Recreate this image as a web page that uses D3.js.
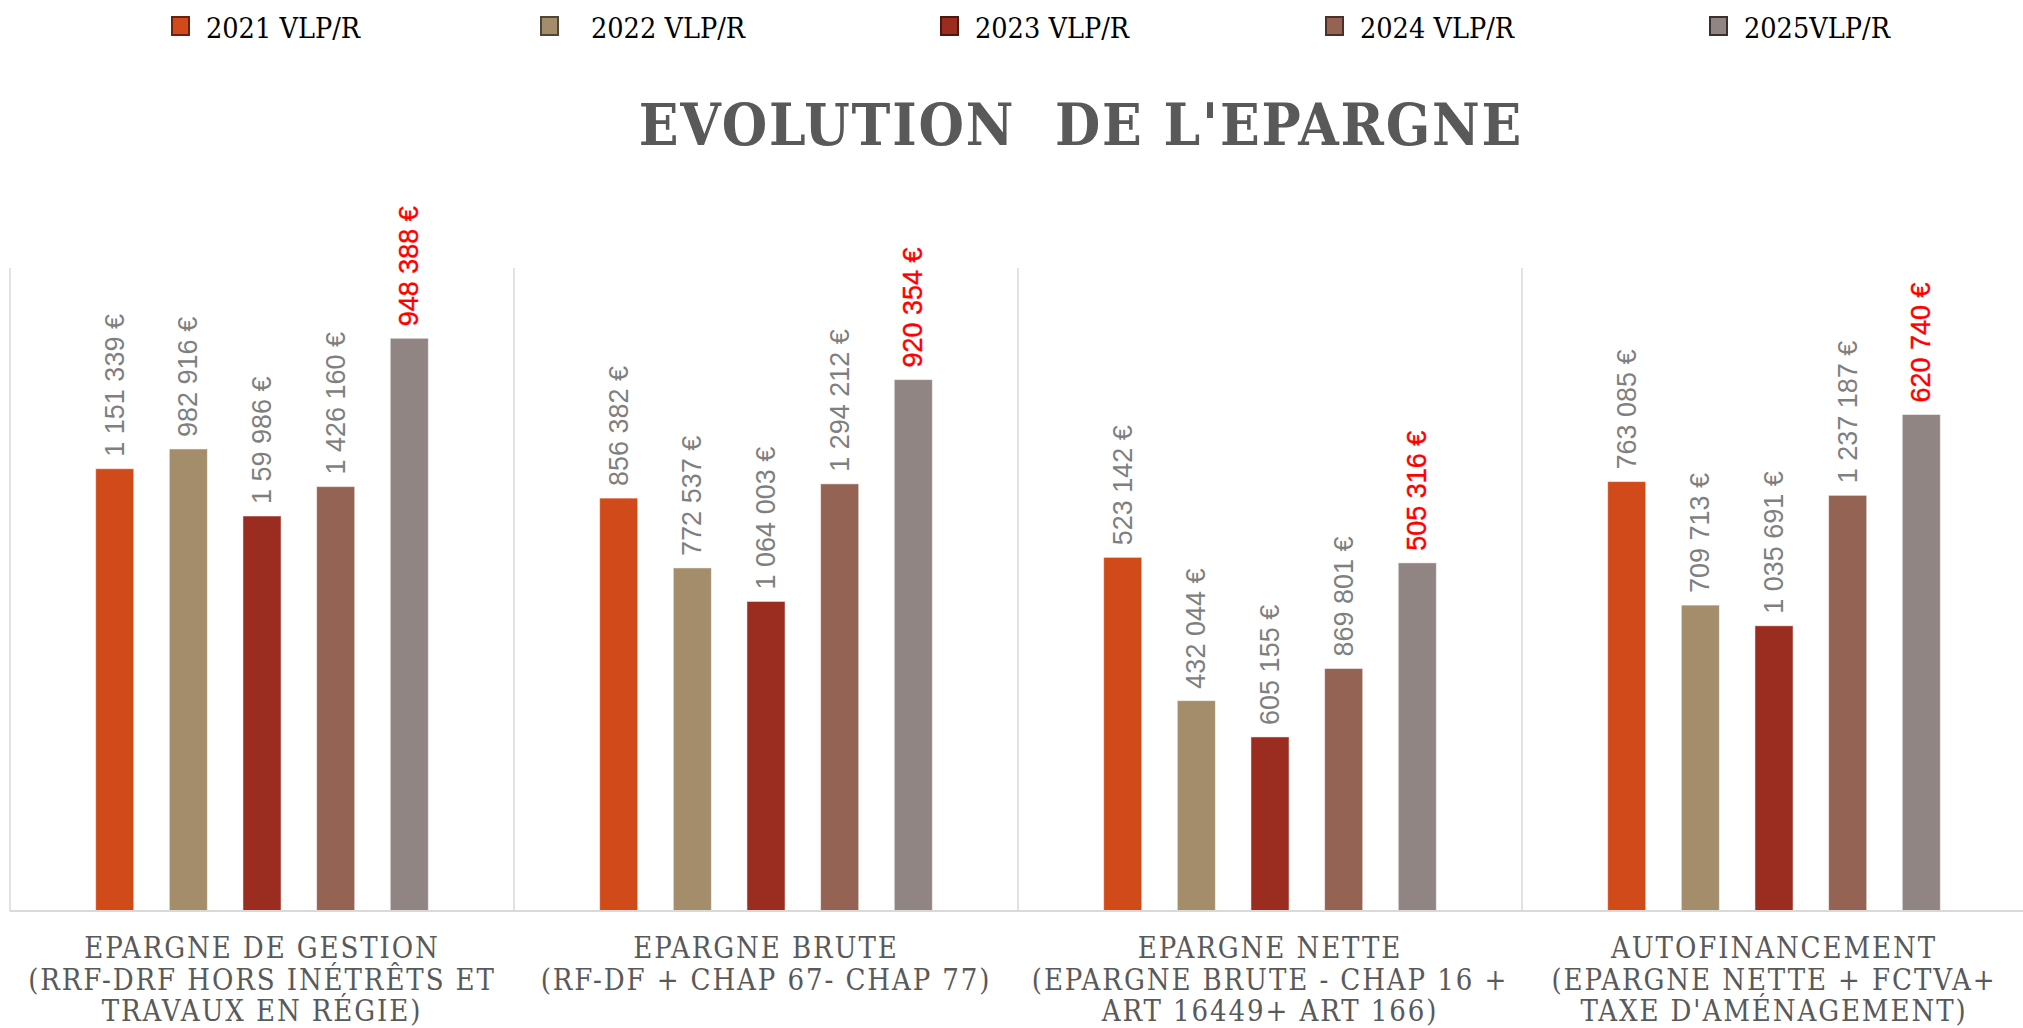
<!DOCTYPE html>
<html>
<head>
<meta charset="utf-8">
<script src="https://cdn.jsdelivr.net/npm/d3@7"></script>
<style>
  body { margin: 0; background: #fff; }
  svg { display: block; }
</style>
</head>
<body>
<div id="chart"></div>
<script>
var width = 2023
var height = 1028

// data
var categories = [
  ['EPARGNE DE GESTION', '(RRF-DRF HORS INÉTRÊTS ET', 'TRAVAUX EN RÉGIE)'],
  ['EPARGNE BRUTE', '(RF-DF + CHAP 67- CHAP 77)'],
  ['EPARGNE NETTE', '(EPARGNE BRUTE - CHAP 16 +', 'ART 16449+ ART 166)'],
  ['AUTOFINANCEMENT', '(EPARGNE NETTE + FCTVA+', "TAXE D'AMÉNAGEMENT)"]
]
var series = ['2021 VLP/R', '2022 VLP/R', '2023 VLP/R', '2024 VLP/R', '2025VLP/R']
var colors = ['#d04a1a', '#a38d6b', '#9b2d20', '#956353', '#908583']
var legendStroke = ['#6b2010', '#4f4636', '#4f1510', '#4a3028', '#3a3030']

// bar heights as drawn
var values2021 = [963000, 899000, 770000, 935000]
var values2022 = [1006000, 747000, 458000, 666000]
var values2023 = [860000, 674000, 379000, 621000]
var values2024 = [924000, 930000, 528000, 905000]
var values2025 = [1247000, 1157000, 758000, 1081000]

// label texts as printed above the bars
var labels2021 = ['1 151 339 €', '856 382 €', '523 142 €', '763 085 €']
var labels2022 = ['982 916 €', '772 537 €', '432 044 €', '709 713 €']
var labels2023 = ['1 59 986 €', '1 064 003 €', '605 155 €', '1 035 691 €']
var labels2024 = ['1 426 160 €', '1 294 212 €', '869 801 €', '1 237 187 €']
var labels2025 = ['948 388 €', '920 354 €', '505 316 €', '620 740 €']

var values = [values2021, values2022, values2023, values2024, values2025]
var labels = [labels2021, labels2022, labels2023, labels2024, labels2025]

var svg = d3.select('#chart')
  .append('svg')
  .attr('width', width)
  .attr('height', height)

var plot = { left: 10, right: 2026, top: 268, bottom: 911 }

var x0 = d3.scaleBand()
  .domain(d3.range(categories.length))
  .range([plot.left, plot.right])

var x1 = d3.scaleBand()
  .domain(d3.range(series.length))
  .range([0, x0.bandwidth()])
  .paddingInner(0.483)
  .paddingOuter(1.163)

var y = d3.scaleLinear()
  .domain([0, 1400000])
  .range([plot.bottom, plot.top])

// group separators
var seps = d3.range(categories.length + 1).map(function(i) {
  return i < categories.length ? x0(i) : plot.right
})
svg.append('g')
  .selectAll('line')
  .data(seps)
  .enter()
  .append('line')
  .attr('x1', function(d) { return d })
  .attr('x2', function(d) { return d })
  .attr('y1', plot.top)
  .attr('y2', plot.bottom)
  .attr('stroke', '#d9d9d9')
  .attr('stroke-width', 1.5)

// bars
var rows = []
categories.forEach(function(c, ci) {
  series.forEach(function(s, si) {
    rows.push({ c: ci, s: si, v: values[si][ci], label: labels[si][ci] })
  })
})

svg.append('g')
  .selectAll('rect')
  .data(rows)
  .enter()
  .append('rect')
  .attr('x', function(d) { return x0(d.c) + x1(d.s) })
  .attr('y', function(d) { return y(d.v) })
  .attr('width', x1.bandwidth())
  .attr('height', function(d) { return y(0) - y(d.v) })
  .attr('fill', function(d) { return colors[d.s] })
  .attr('stroke', '#ffffff')
  .attr('stroke-opacity', 0.5)
  .attr('stroke-width', 1)

// baseline
svg.append('line')
  .attr('x1', plot.left)
  .attr('x2', plot.right)
  .attr('y1', plot.bottom)
  .attr('y2', plot.bottom)
  .attr('stroke', '#d9d9d9')
  .attr('stroke-width', 2)

// value labels
svg.append('g')
  .selectAll('text')
  .data(rows)
  .enter()
  .append('text')
  .attr('transform', function(d) {
    var cx = x0(d.c) + x1(d.s) + x1.bandwidth() / 2
    return 'translate(' + cx + ',' + (y(d.v) - 12) + ')rotate(-90)'
  })
  .attr('text-anchor', 'start')
  .attr('dominant-baseline', 'central')
  .style('font-family', '"Liberation Sans Narrow", "Liberation Sans", sans-serif')
  .style('font-size', '27px')
  .attr('fill', function(d) { return d.s === 4 ? '#ff0000' : '#7f7f7f' })
  .attr('stroke', function(d) { return d.s === 4 ? '#ff0000' : 'none' })
  .attr('stroke-width', 0.4)
  .text(function(d) { return d.label })

// category labels
var cat = svg.append('g')
  .selectAll('text')
  .data(categories)
  .enter()
  .append('text')
  .attr('x', function(d, i) { return x0(i) + x0.bandwidth() / 2 })
  .attr('y', 948)
  .attr('text-anchor', 'middle')
  .style('font-family', '"DejaVu Serif Condensed", "DejaVu Serif", serif')
  .style('font-size', '29px')
  .style('letter-spacing', '1.9px')
  .attr('fill', '#595959')

cat.selectAll('tspan')
  .data(function(d) { return d })
  .enter()
  .append('tspan')
  .attr('x', function() { return d3.select(this.parentNode).attr('x') })
  .attr('dy', function(d, i) { return i === 0 ? 0 : 31.5 })
  .attr('dominant-baseline', 'central')
  .text(function(d) { return d })

// title
svg.append('text')
  .attr('x', 1081)
  .attr('y', 125)
  .attr('text-anchor', 'middle')
  .attr('dominant-baseline', 'central')
  .style('font-family', '"DejaVu Serif Condensed", "DejaVu Serif", serif')
  .style('font-size', '58px')
  .style('font-weight', 'bold')
  .style('letter-spacing', '1.8px')
  .style('white-space', 'pre')
  .attr('fill', '#595959')
  .text("EVOLUTION  DE L'EPARGNE")

// legend
var legendX = [172, 541, 941, 1326, 1710]
var legend = svg.append('g')
  .selectAll('g')
  .data(series)
  .enter()
  .append('g')
  .attr('transform', function(d, i) { return 'translate(' + legendX[i] + ',26)' })

legend.append('rect')
  .attr('x', 0)
  .attr('y', -9)
  .attr('width', 17)
  .attr('height', 18)
  .attr('fill', function(d, i) { return colors[i] })
  .attr('stroke', function(d, i) { return legendStroke[i] })
  .attr('stroke-width', 2)

legend.append('text')
  .attr('x', function(d, i) { return i === 1 ? 50 : 34 })
  .attr('y', 2)
  .attr('dominant-baseline', 'central')
  .style('font-family', '"DejaVu Serif Condensed", "DejaVu Serif", serif')
  .style('font-size', '28.5px')
  .attr('fill', '#000')
  .text(function(d) { return d })
</script>
</body>
</html>
